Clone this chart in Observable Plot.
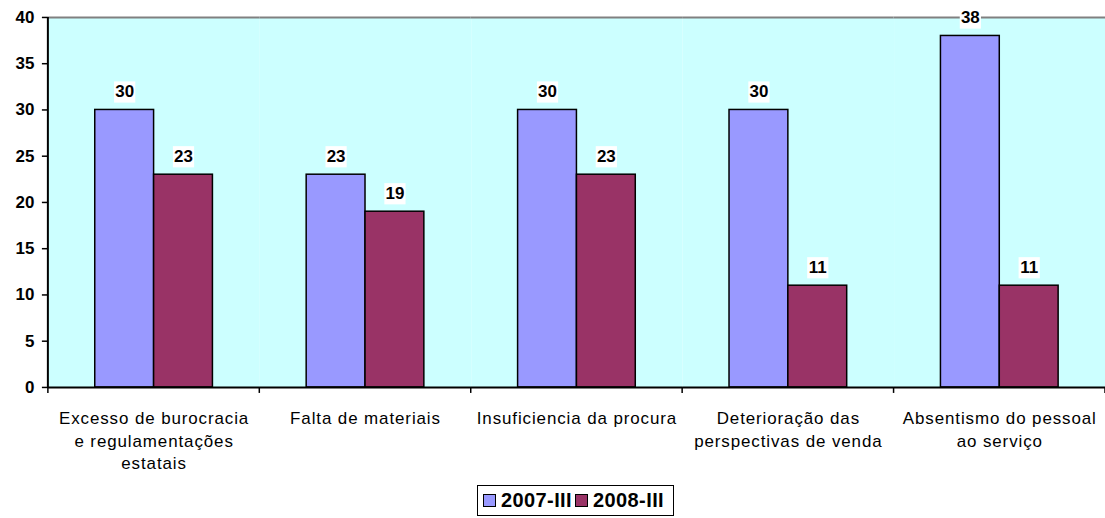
<!DOCTYPE html>
<html><head><meta charset="utf-8">
<script src="https://cdn.jsdelivr.net/npm/d3@7"></script>
<script src="https://cdn.jsdelivr.net/npm/@observablehq/plot@0.6"></script>
<style>
body{margin:0;background:#fff;overflow:hidden;width:1105px;height:518px;font-family:Arial,"Liberation Sans",sans-serif}
#chart{width:1105px;height:482px;overflow:hidden}
#legend{position:absolute;left:477px;top:485px;height:31px;box-sizing:border-box;border:1px solid #000;display:flex;align-items:center;padding:0 6px 0 5px;font-size:20px;font-weight:bold;letter-spacing:0.4px;background:#fff}
#legend .item{display:flex;align-items:center;margin-right:3px}
#legend .sw{width:11px;height:11px;border:1px solid #000;margin-right:5px}
</style></head><body><div id="chart"></div><div id="legend"></div>
<script>
const categories = ["Excesso de burocracia e regulamentações estatais","Falta de materiais","Insuficiencia da procura","Deterioração das perspectivas de venda","Absentismo do pessoal ao serviço"];
const categoryLabels = ["Excesso de burocracia\ne regulamentações\nestatais","Falta de materiais","Insuficiencia da procura","Deterioração das\nperspectivas de venda","Absentismo do pessoal\nao serviço"];
const series = ["2007-III","2008-III"];
const values2007 = [30,23,30,30,38];
const values2008 = [23,19,23,11,11];
const yTicks = [0,5,10,15,20,25,30,35,40];
const colors = ["#9999FF","#993366"];

const data = categories.flatMap((c,i)=>[
  {category:c, series:series[0], value:values2007[i]},
  {category:c, series:series[1], value:values2008[i]}
]);

const plot = Plot.plot({
  width: 1108, height: 482,
  marginLeft: 47, marginRight: 0, marginTop: 17, marginBottom: 94,
  style: {fontFamily: "Arial, 'Liberation Sans', sans-serif", background: "transparent", color: "black"},
  fx: {domain: categories, padding: 0, label: null},
  x: {domain: series, paddingInner: 0, paddingOuter: 0.77, axis: null},
  y: {domain: [0,40], label: null},
  color: {domain: series, range: colors},
  marks: [
    Plot.frame({fill: "#CCFFFF"}),
    Plot.ruleY([40], {stroke: "#808080", strokeWidth: 2}),
    Plot.barY(data, {fx: "category", x: "series", y: "value", fill: "series", stroke: "black", strokeWidth: 1.5}),
    Plot.ruleY([0], {stroke: "black", strokeWidth: 2}),
    Plot.axisY({ticks: yTicks, tickSize: 6, tickPadding: 8, fontSize: 17, fontWeight: "bold", stroke: "black", strokeWidth: 1.5, label: null}),
    Plot.axisFx({anchor: "bottom", tickSize: 0, tickPadding: 20, fontSize: 17, lineHeight: 1.35, tickFormat: (d)=>categoryLabels[categories.indexOf(d)], label: null}),
    Plot.dot(data, {fx: "category", x: "series", y: "value", symbol: "square", r: 12, fill: "white", dy: -18}),
    Plot.text(data, {fx: "category", x: "series", y: "value", text: d=>String(d.value), dy: -18, fontSize: 17, fontWeight: "bold", fill: "black"})
  ]
});
document.getElementById("chart").appendChild(plot);

const svg = d3.select(plot);
// wider Windows-like spacing for category labels
svg.selectAll("[aria-label='fx-axis tick label'] text").attr("letter-spacing", "0.9px");

// y-axis line and category boundary ticks, from the plot's own scales
const fx = plot.scale("fx"), y = plot.scale("y");
const y0 = y.apply(0), yTop = y.apply(40);
const left = fx.apply(categories[0]);
svg.append("line").attr("x1", left).attr("x2", left).attr("y1", yTop).attr("y2", y0 + 1)
  .attr("stroke", "black").attr("stroke-width", 2);
const bounds = categories.map(c=>fx.apply(c)).concat([fx.apply(categories[categories.length-1]) + fx.bandwidth]);
bounds.forEach(b=>{
  svg.append("line").attr("x1", b).attr("x2", b).attr("y1", y0).attr("y2", y0 + 6)
    .attr("stroke", "black").attr("stroke-width", 1.5);
});

// legend
const legend = d3.select("#legend");
series.forEach((s,i)=>{
  const it = legend.append("div").attr("class","item");
  it.append("div").attr("class","sw").style("background", colors[i]);
  it.append("span").text(s);
});
</script></body></html>
